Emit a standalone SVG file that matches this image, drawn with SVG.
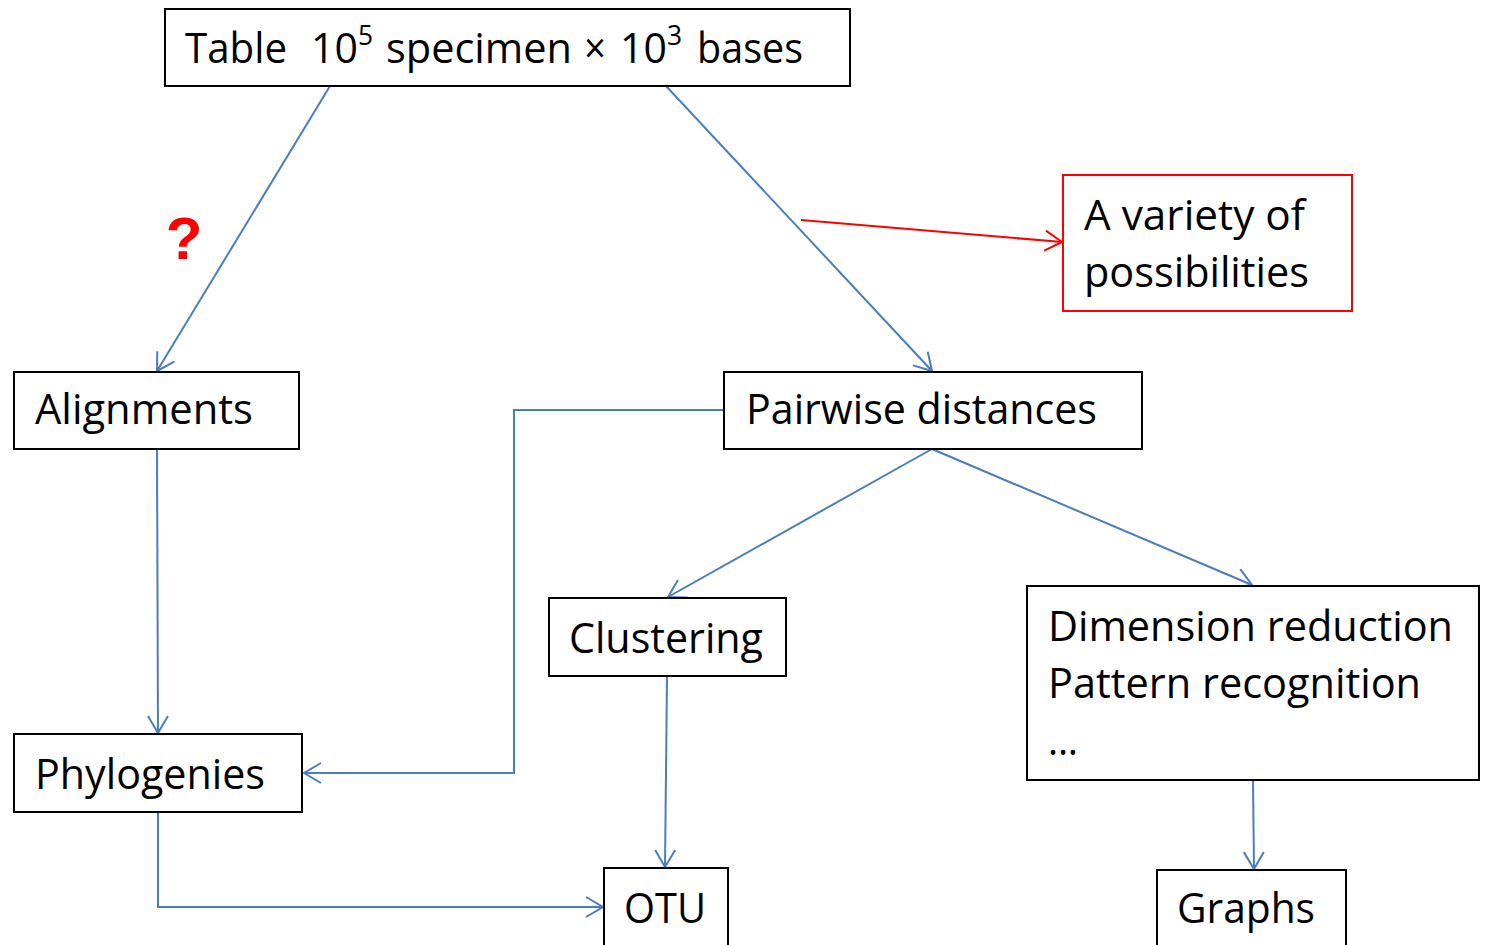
<svg xmlns="http://www.w3.org/2000/svg" width="1486" height="945" viewBox="0 0 1486 945">
  <style>
    .box { fill: #ffffff; stroke: #000000; stroke-width: 2; }
    .rbox { fill: #ffffff; stroke: #ff0000; stroke-width: 2; }
    .t { font-family: "Open Sans", "Liberation Sans", sans-serif; font-size: 42px; fill: #000000; }
    .sup { font-size: 27px; }
    .link { fill: none; stroke: #4a7ebb; stroke-width: 2; }
    .red { fill: none; stroke: #ff0000; stroke-width: 2; }
  </style>
  <defs>
    <marker id="arrow" markerUnits="userSpaceOnUse" markerWidth="24" markerHeight="24" refX="20" refY="12" orient="auto">
      <path d="M3,2 L20,12 L3,22" fill="none" stroke="#4a7ebb" stroke-width="2"/>
    </marker>
    <marker id="arrowRed" markerUnits="userSpaceOnUse" markerWidth="24" markerHeight="24" refX="20" refY="12" orient="auto">
      <path d="M3,2 L20,12 L3,22" fill="none" stroke="#ff0000" stroke-width="2"/>
    </marker>
  </defs>

  <!-- connectors -->
  <g id="connectors">
    <line class="link" x1="330" y1="86" x2="157" y2="371" marker-end="url(#arrow)"/>
    <line class="link" x1="666" y1="86" x2="932" y2="371" marker-end="url(#arrow)"/>
    <line class="red" x1="801" y1="220" x2="1062" y2="242" marker-end="url(#arrowRed)"/>
    <line class="link" x1="157" y1="449" x2="158" y2="733" marker-end="url(#arrow)"/>
    <polyline class="link" points="724,410 514,410 514,773 304,773" marker-end="url(#arrow)"/>
    <line class="link" x1="932" y1="449" x2="668" y2="597" marker-end="url(#arrow)"/>
    <line class="link" x1="932" y1="449" x2="1252" y2="585" marker-end="url(#arrow)"/>
    <line class="link" x1="667" y1="676" x2="665" y2="867" marker-end="url(#arrow)"/>
    <polyline class="link" points="158,812 158,907 603,907" marker-end="url(#arrow)"/>
    <line class="link" x1="1253" y1="780" x2="1254" y2="869" marker-end="url(#arrow)"/>
  </g>

  <!-- question mark beside the left branch -->
  <text x="184" y="259" text-anchor="middle" font-family="'Liberation Sans', sans-serif" font-weight="bold" font-size="60" fill="#ff0000">?</text>

  <g id="table">
    <rect class="box" x="165" y="9" width="685" height="77"/>
    <text class="t" x="185" y="63" textLength="102" lengthAdjust="spacingAndGlyphs">Table</text>
    <text class="t" x="311" y="63" textLength="62" lengthAdjust="spacingAndGlyphs">10<tspan class="sup" dy="-18">5</tspan></text>
    <text class="t" x="386" y="63" textLength="186" lengthAdjust="spacingAndGlyphs">specimen</text>
    <text class="t" x="584" y="63" textLength="22" lengthAdjust="spacingAndGlyphs">×</text>
    <text class="t" x="620" y="63" textLength="62" lengthAdjust="spacingAndGlyphs">10<tspan class="sup" dy="-18">3</tspan></text>
    <text class="t" x="697" y="63" textLength="106" lengthAdjust="spacingAndGlyphs">bases</text>
  </g>

  <g id="variety">
    <rect class="rbox" x="1063" y="175" width="289" height="136"/>
    <text class="t" x="1084" y="230" textLength="221" lengthAdjust="spacingAndGlyphs">A variety of</text>
    <text class="t" x="1084" y="287" textLength="225" lengthAdjust="spacingAndGlyphs">possibilities</text>
  </g>

  <g id="alignments">
    <rect class="box" x="14" y="372" width="285" height="77"/>
    <text class="t" x="35" y="424" textLength="218" lengthAdjust="spacingAndGlyphs">Alignments</text>
  </g>

  <g id="pairwise">
    <rect class="box" x="724" y="372" width="418" height="77"/>
    <text class="t" x="746" y="424" textLength="351" lengthAdjust="spacingAndGlyphs">Pairwise distances</text>
  </g>

  <g id="clustering">
    <rect class="box" x="549" y="598" width="237" height="78"/>
    <text class="t" x="569" y="653" textLength="194" lengthAdjust="spacingAndGlyphs">Clustering</text>
  </g>

  <g id="dimension">
    <rect class="box" x="1027" y="586" width="452" height="194"/>
    <text class="t" x="1048" y="641" textLength="405" lengthAdjust="spacingAndGlyphs">Dimension reduction</text>
    <text class="t" x="1048" y="698" textLength="373" lengthAdjust="spacingAndGlyphs">Pattern recognition</text>
    <text class="t" x="1048" y="755" textLength="30" lengthAdjust="spacingAndGlyphs">…</text>
  </g>

  <g id="phylogenies">
    <rect class="box" x="14" y="734" width="288" height="78"/>
    <text class="t" x="35" y="789" textLength="230" lengthAdjust="spacingAndGlyphs">Phylogenies</text>
  </g>

  <g id="otu">
    <rect class="box" x="604" y="868" width="124" height="90"/>
    <text class="t" x="624" y="923" textLength="82" lengthAdjust="spacingAndGlyphs">OTU</text>
  </g>

  <g id="graphs">
    <rect class="box" x="1157" y="870" width="189" height="90"/>
    <text class="t" x="1177" y="923" textLength="138" lengthAdjust="spacingAndGlyphs">Graphs</text>
  </g>
</svg>
